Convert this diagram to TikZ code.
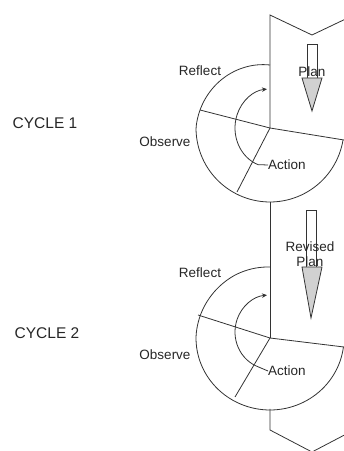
\documentclass[tikz,border=0pt]{standalone}
\usepackage{fontspec}
\setmainfont{Liberation Sans}
\usetikzlibrary{arrows.meta}
\begin{document}
\begin{tikzpicture}[x=1pt,y=1pt,
  ln/.style={line width=0.8pt, draw=black!80},
  lbl/.style={font=\fontsize{13.5}{14.5}\selectfont, inner sep=0pt, text=black!85},
  cyc/.style={font=\fontsize{15.5}{17}\selectfont, inner sep=0pt, text=black!85},
  tip/.style={-{Stealth[length=5pt,width=4.5pt]}},
  plarrow/.style={line width=0.8pt, draw=black!80, fill=white},
  plhead/.style={line width=0.8pt, draw=black!80, fill=black!18}
]
\useasboundingbox (0,0) rectangle (344,451);
\clip (0,0) rectangle (344,451);

% centres
\coordinate (c1) at (270,323);
\coordinate (c2) at (270,113);

% column
\coordinate (tl) at (270,436);
\coordinate (tn) at (312,416);
\coordinate (tr) at (354,436);
\coordinate (bl) at (270,21);
\coordinate (bp) at (312,-1);
\coordinate (br) at (354,21);
\draw[ln] (tr) -- (tn) -- (tl) -- (c1);
\draw[ln] (270,249) -- (c2);
\draw[ln] (270,42) -- (bl) -- (bp) -- (br);

% plan arrows
\draw[plarrow] (307,407) -- (317,407) -- (317,373) -- (307,373) -- cycle;
\draw[plhead] (302,373) -- (322,373) -- (312,340) -- cycle;
\draw[plarrow] (306,241) -- (316,241) -- (316,184) -- (306,184) -- cycle;
\draw[plhead] (302,184) -- (322,184) -- (311,133) -- cycle;

% cycle 1 outer spiral and divisions
\draw[ln] plot[domain=90:351, samples=90, variable=\t]
  ({270+min(74,63+11*(\t-90)/90)*cos(\t)}, {323+min(74,63+11*(\t-90)/90)*sin(\t)});
\draw[ln] (c1) -- ++(-70,18);
\draw[ln] (c1) -- ++(74,-12);
\draw[ln] (c1) -- ++(-33,-64);

% cycle 2 outer spiral and divisions
\draw[ln] plot[domain=90:353, samples=90, variable=\t]
  ({270+min(74,71+3*(\t-90)/90)*cos(\t)}, {113+min(72,71+3*(\t-90)/90)*sin(\t)});
\draw[ln] (c2) -- ++(-72,23);
\draw[ln] (c2) -- ++(74,-9);
\draw[ln] (c2) -- ++(-35,-59);

% labels
\node[cyc] (cy1) at (45,328) {CYCLE 1};
\node[lbl] (r1) at (200,380) {Reflect};
\node[lbl] (p1) at (312,379) {Plan};
\node[lbl] (o1) at (165,309) {Observe};
\node[lbl,anchor=west] (a1) at (268,286) {Action};

\node[cyc] (cy2) at (47,118) {CYCLE 2};
\node[lbl] (r2) at (200,178) {Reflect};
\node[lbl,align=center] (p2) at (310,197) {Revised\\Plan};
\node[lbl] (o2) at (165,96) {Observe};
\node[lbl,anchor=west] (a2) at (268,80) {Action};

% inner arrows
\coordinate (c1i) at (270,323);
\coordinate (c2i) at (270,119);
\draw[ln,tip] (a1.west) -- ([shift={(250:35 and 39)}]c1i)
  arc[start angle=250, end angle=95, x radius=35, y radius=39];
\draw[ln,tip] (a2.west) -- ([shift={(250:35 and 37)}]c2i)
  arc[start angle=250, end angle=95, x radius=35, y radius=37];
\end{tikzpicture}
\end{document}
